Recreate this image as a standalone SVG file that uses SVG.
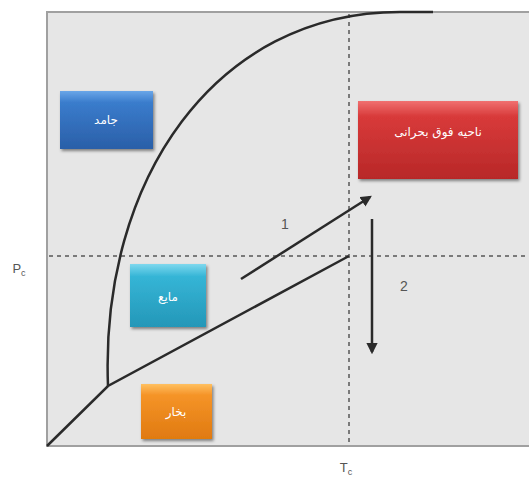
<svg xmlns="http://www.w3.org/2000/svg" width="529" height="481" viewBox="0 0 529 481">
<style>
.lbl{font-family:"DejaVu Sans","Noto Sans",sans-serif;font-size:12px;fill:#fff;text-anchor:middle}
.ax{font-family:"Liberation Sans",Arial,sans-serif;font-size:13px;fill:#555;text-anchor:middle}
.num{font-family:"Liberation Sans",Arial,sans-serif;font-size:14px;fill:#555;text-anchor:middle}
.curve{fill:none;stroke:#2a2a2a;stroke-width:2.5}
.dash{fill:none;stroke:#7a7a7a;stroke-width:2;stroke-dasharray:4,4}
.arr{fill:none;stroke:#2a2a2a;stroke-width:2.5}
.box{stroke-width:1}
</style>
<defs>
<linearGradient id="gb" x1="0" y1="0" x2="0" y2="1"><stop offset="0" stop-color="#6aa6e8"/><stop offset="0.2" stop-color="#3a7ccc"/><stop offset="1" stop-color="#2a5fa8"/></linearGradient>
<linearGradient id="gr" x1="0" y1="0" x2="0" y2="1"><stop offset="0" stop-color="#f07070"/><stop offset="0.2" stop-color="#d83a3a"/><stop offset="1" stop-color="#b82828"/></linearGradient>
<linearGradient id="gc" x1="0" y1="0" x2="0" y2="1"><stop offset="0" stop-color="#7fd8ee"/><stop offset="0.2" stop-color="#35b5d6"/><stop offset="1" stop-color="#2497b8"/></linearGradient>
<linearGradient id="go" x1="0" y1="0" x2="0" y2="1"><stop offset="0" stop-color="#ffc060"/><stop offset="0.2" stop-color="#f59428"/><stop offset="1" stop-color="#e07a10"/></linearGradient>
<filter id="sh" x="-10%" y="-10%" width="130%" height="130%"><feDropShadow dx="1.5" dy="2" stdDeviation="1.5" flood-color="#000" flood-opacity="0.45"/></filter>
<marker id="ah" viewBox="0 0 10 10" refX="8" refY="5" markerWidth="4.5" markerHeight="4.5" orient="auto"><path d="M0,0 L10,5 L0,10 z" fill="#2a2a2a"/></marker>
</defs>
<rect x="0" y="0" width="529" height="481" fill="#fff"/>
<rect x="47" y="12" width="484" height="434" fill="#e6e6e6" stroke="#a0a0a0" stroke-width="2"/>
<g id="connectors">
<line class="dash" x1="349" y1="14" x2="349" y2="446"/>
<line class="dash" x1="49" y1="256" x2="529" y2="256"/>
<path class="curve" d="M47,446 L108,386 L349,256"/>
<path class="curve" d="M108,386 C100,180 215,12 400,12 L433,12"/>
<line class="arr" x1="241" y1="279" x2="370" y2="197" marker-end="url(#ah)"/>
<line class="arr" x1="372" y1="219" x2="372" y2="352" marker-end="url(#ah)"/>
</g>
<g id="solid"><rect class="box" x="60" y="91" width="93" height="58" fill="url(#gb)" filter="url(#sh)"/><text class="lbl" x="106" y="124">جامد</text></g>
<g id="supercritical"><rect class="box" x="358" y="101" width="160" height="78" fill="url(#gr)" filter="url(#sh)"/><text class="lbl" x="438" y="136">ناحیه فوق بحرانی</text></g>
<g id="liquid"><rect class="box" x="130" y="264" width="76" height="63" fill="url(#gc)" filter="url(#sh)"/><text class="lbl" x="168" y="301">مایع</text></g>
<g id="vapor"><rect class="box" x="141" y="384" width="71" height="55" fill="url(#go)" filter="url(#sh)"/><text class="lbl" x="176" y="416">بخار</text></g>
<text class="num" x="285" y="229">1</text>
<text class="num" x="404" y="291">2</text>
<text class="ax" x="19" y="273">P<tspan font-size="9" dy="3">c</tspan></text>
<text class="ax" x="346" y="472">T<tspan font-size="9" dy="3">c</tspan></text>
</svg>
